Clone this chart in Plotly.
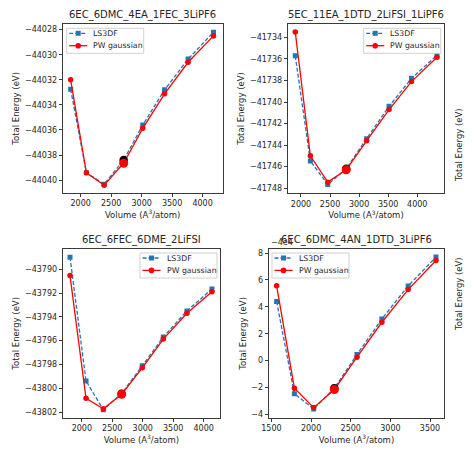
import plotly.graph_objects as go
from plotly.subplots import make_subplots

# systems (one panel each)
titles = ['6EC_6DMC_4EA_1FEC_3LiPF6', '5EC_11EA_1DTD_2LiFSI_1LiPF6',
          '6EC_6FEC_6DME_2LiFSI', '6EC_6DMC_4AN_1DTD_3LiPF6']
series_names = ['LS3DF', 'PW gaussian']

# volume (A^3/atom) and total energy (eV)
vol_a = [1835, 2094, 2385, 2705, 3018, 3376, 3762, 4179]
ls3df_a = [-44032.75, -44039.41, -44040.32, -44038.40, -44035.60, -44032.80, -44030.35, -44028.20]
pw_a = [-44032.00, -44039.41, -44040.40, -44038.65, -44035.87, -44033.12, -44030.60, -44028.50]

vol_b = [1902, 2162, 2461, 2778, 3129, 3515, 3901, 4339]
ls3df_b = [-41735.71, -41745.48, -41747.66, -41746.20, -41743.40, -41740.40, -41737.80, -41735.65]
pw_b = [-41733.50, -41745.00, -41747.44, -41746.30, -41743.60, -41740.70, -41738.10, -41735.84]

vol_c = [1806, 2069, 2353, 2654, 2993, 3338, 3726, 4137]
ls3df_c = [-43788.99, -43799.38, -43801.80, -43800.45, -43798.10, -43795.70, -43793.50, -43791.66]
pw_c = [-43790.53, -43800.84, -43801.72, -43800.50, -43798.28, -43795.87, -43793.70, -43791.90]

# last panel is drawn with an offset on the y axis (matplotlib style)
vol_d = [1566, 1790, 2033, 2294, 2579, 2893, 3224, 3575]
ls3df_d = [4.39, -2.47, -3.60, -2.05, 0.45, 3.10, 5.55, 7.70]
pw_d = [5.56, -2.05, -3.50, -2.15, 0.25, 2.85, 5.28, 7.45]
offset_label_d = '\u22124e4'

# index of the highlighted (equilibrium) point in every panel
eq_idx = 3

panels = [
    (vol_a, ls3df_a, pw_a),
    (vol_b, ls3df_b, pw_b),
    (vol_c, ls3df_c, pw_c),
    (vol_d, ls3df_d, pw_d),
]

BLUE, RED = '#1f77b4', 'red'
DASH = '4px,2px'
FONT = 'DejaVu Sans'
TXT = '#262626'

# the page body has an 8px margin, so everything is laid out in window pixels minus 8
PAD = 8
W, H = 474 - PAD, 451 - PAD


def px(x):
    return (x - PAD) / W


def py(y):
    return 1 - (y - PAD) / H


# axes frames in window pixels (left, right, top, bottom)
frames = [(62.7, 222.7, 24, 192.7), (287.7, 444.3, 24, 193),
          (62.7, 220, 249, 417.7), (268.7, 444.3, 249, 417.7)]
xranges = [[1705, 4330], [1772, 4465], [1686, 4269], [1466, 3680]]
yranges = [[-44041.0, -44027.55], [-41748.45, -41732.75],
           [-43802.47, -43788.3], [-4.25, 8.3]]
xticks = [list(range(2000, 4001, 500))] * 3 + [list(range(1500, 3501, 500))]
yticks = [list(range(-44040, -44027, 2)), list(range(-41748, -41733, 2)),
          list(range(-43802, -43789, 2)), list(range(-4, 9, 2))]
# legend box top-left corners in window pixels
legend_pos = [(66.7, 28.3), (363.7, 28.3), (140, 253), (272, 253)]
LEG_W, LEG_H = 77, 25

fig = make_subplots(rows=2, cols=2, horizontal_spacing=0.1, vertical_spacing=0.1)

for i, (vol, ls, pw) in enumerate(panels):
    r, c = i // 2 + 1, i % 2 + 1
    fig.add_trace(go.Scatter(
        x=vol, y=ls, mode='lines+markers', name=series_names[0],
        line=dict(color=BLUE, width=1.3, dash=DASH),
        marker=dict(symbol='square', size=5, color=BLUE),
        showlegend=False,
    ), row=r, col=c)
    fig.add_trace(go.Scatter(
        x=vol, y=pw, mode='lines+markers', name=series_names[1],
        line=dict(color=RED, width=1.3),
        marker=dict(symbol='circle', size=5.5, color=RED),
        showlegend=False,
    ), row=r, col=c)
    # highlighted points
    fig.add_trace(go.Scatter(
        x=[vol[eq_idx]], y=[ls[eq_idx]], mode='markers', showlegend=False,
        marker=dict(size=8.5, color='black'),
    ), row=r, col=c)
    fig.add_trace(go.Scatter(
        x=[vol[eq_idx]], y=[pw[eq_idx]], mode='markers', showlegend=False,
        marker=dict(size=9, color=RED),
    ), row=r, col=c)

axis_common = dict(
    showline=True, mirror=True, linecolor='#3a3a3a', linewidth=1,
    showgrid=False, zeroline=False, ticks='outside', ticklen=3,
    tickcolor='#3a3a3a', tickwidth=1, automargin=False,
    tickfont=dict(family=FONT, size=8, color=TXT),
)

for i in range(4):
    l, rr, t, b = frames[i]
    n = '' if i == 0 else str(i + 1)
    fig.layout['xaxis' + n].update(
        domain=[px(l), px(rr)], range=xranges[i], tickvals=xticks[i],
        title=dict(text='Volume (A<sup>3</sup>/atom)', standoff=1,
                   font=dict(family=FONT, size=8.5, color=TXT)),
        **axis_common)
    fig.layout['yaxis' + n].update(
        domain=[py(b), py(t)], range=yranges[i], tickvals=yticks[i],
        tickformat='d',
        title=dict(text='Total Energy (eV)', standoff=3,
                   font=dict(family=FONT, size=8.5, color=TXT)),
        **axis_common)

    # panel title
    fig.add_annotation(
        text=titles[i], xref='paper', yref='paper',
        x=px((l + rr) / 2), y=py(t), xanchor='center', yanchor='bottom',
        yshift=1, showarrow=False, font=dict(family=FONT, size=10, color=TXT),
    )

    # matplotlib-like legend box
    lx, ly = legend_pos[i]
    fig.add_shape(type='rect', xref='paper', yref='paper',
                  x0=px(lx), x1=px(lx + LEG_W), y0=py(ly + LEG_H), y1=py(ly),
                  fillcolor='rgba(255,255,255,0.85)',
                  line=dict(color='#d0d0d0', width=1))
    for k, (name, color, dash, sym) in enumerate(
            [(series_names[0], BLUE, DASH, 'rect'), (series_names[1], RED, 'solid', 'circle')]):
        yc = ly + 5 + k * 12.4
        fig.add_shape(type='line', xref='paper', yref='paper',
                      x0=px(lx + 2.5), x1=px(lx + 20.6), y0=py(yc), y1=py(yc),
                      line=dict(color=color, width=1.3, dash=dash))
        hs = 2.5 if sym == 'rect' else 2.8
        fig.add_shape(type=sym, xref='paper', yref='paper',
                      x0=px(lx + 11.5 - hs), x1=px(lx + 11.5 + hs),
                      y0=py(yc + hs), y1=py(yc - hs),
                      fillcolor=color, line=dict(color=color, width=0))
        fig.add_annotation(
            text=name, xref='paper', yref='paper', x=px(lx + 24.5), y=py(yc),
            xanchor='left', yanchor='middle', showarrow=False,
            font=dict(family=FONT, size=7.8, color=TXT),
        )

# offset text of the last panel
fig.add_annotation(
    text=offset_label_d, xref='paper', yref='paper',
    x=px(268.7), y=py(249), xanchor='left', yanchor='bottom',
    showarrow=False, font=dict(family=FONT, size=8, color=TXT),
)

# y labels of the next (cropped) column
for yc in [106, 333]:
    fig.add_annotation(
        text='Total Energy (eV)', xref='paper', yref='paper',
        x=px(466), y=py(yc), textangle=-90, showarrow=False,
        font=dict(family=FONT, size=8.5, color=TXT),
    )

fig.update_layout(
    width=W, height=H,
    margin=dict(l=0, r=0, t=0, b=0),
    paper_bgcolor='white', plot_bgcolor='white',
    font=dict(family=FONT, color=TXT),
    showlegend=False,
)

fig.write_html('out.html')
